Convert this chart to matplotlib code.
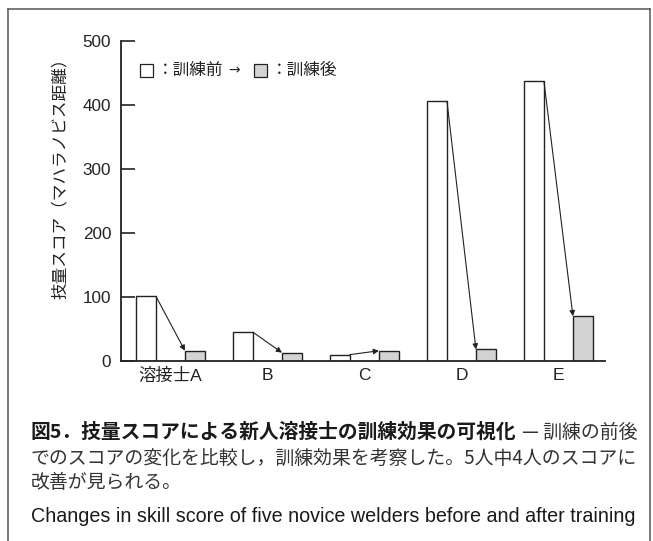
import matplotlib
matplotlib.use("Agg")
import matplotlib.pyplot as plt
from matplotlib.patches import Rectangle
import numpy as np

# ---- data ----
categories = ["溶接士A", "B", "C", "D", "E"]
before = [101, 45, 10, 406, 437]
after = [16, 13, 16, 18, 70]
yticks = [0, 100, 200, 300, 400, 500]

W, H = 653, 541
DPI = 100
JP = ["Noto Sans CJK JP", "DejaVu Sans"]
LAT = ["Liberation Sans", "Noto Sans CJK JP", "DejaVu Sans"]
plt.rcParams["font.family"] = LAT

fig = plt.figure(figsize=(W / DPI, H / DPI), dpi=DPI)

def fx(px):
    return px / W

def fy(py):
    return 1 - py / H

# outer frame (open at bottom)
frame_col = "#555555"
fig.add_artist(plt.Line2D([fx(8), fx(8)], [fy(9), -0.05], color=frame_col, lw=1.1))
fig.add_artist(plt.Line2D([fx(650), fx(650)], [fy(9), -0.05], color=frame_col, lw=1.1))
fig.add_artist(plt.Line2D([fx(8), fx(650)], [fy(9), fy(9)], color=frame_col, lw=1.1))

ax_l, ax_r, ax_t, ax_b = 121, 605, 41, 361
ax = fig.add_axes([fx(ax_l), fy(ax_b), fx(ax_r - ax_l), (ax_b - ax_t) / H])

x = np.arange(len(categories))
bw = 0.205
off = 0.252
dark = "#222222"
ax.bar(x - off, before, width=bw, color="white", edgecolor=dark, linewidth=1.0, zorder=2)
ax.bar(x + off, after, width=bw, color="#d3d3d3", edgecolor=dark, linewidth=1.0, zorder=2)

for i in range(len(categories)):
    ax.annotate("", xy=(x[i] + off - bw / 2, after[i]),
                xytext=(x[i] - off + bw / 2, before[i]),
                arrowprops=dict(arrowstyle="-|>", color=dark, lw=0.8,
                                mutation_scale=8, shrinkA=0, shrinkB=0),
                zorder=3)

ax.set_xlim(-0.51, 4.48)
ax.set_ylim(0, 500)
ax.set_yticks(yticks)
ax.set_xticks(x)
ax.set_xticklabels(categories)
ax.tick_params(axis="x", length=0, pad=5, labelsize=12.5, colors=dark)
ax.tick_params(axis="y", direction="in", length=10, width=1.2, pad=7,
               labelsize=12.3, colors=dark)
for s in ["top", "right"]:
    ax.spines[s].set_visible(False)
for s in ["left", "bottom"]:
    ax.spines[s].set_linewidth(1.3)
    ax.spines[s].set_color(dark)

ax.set_ylabel("技量スコア（マハラノビス距離）", family=JP, fontsize=12, color=dark)
ax.yaxis.set_label_coords((69 - ax_l) / (ax_r - ax_l), (ax_b - 174.5) / (ax_b - ax_t))

# legend (manual)
def sq(px0, py0, fc):
    fig.add_artist(Rectangle((fx(px0), fy(py0 + 13)), fx(12.5), 13 / H,
                             facecolor=fc, edgecolor=dark, lw=0.9,
                             transform=fig.transFigure))

sq(140, 63.5, "white")
fig.text(fx(157), fy(70), "：訓練前", family=JP, fontsize=12, va="center", color=dark)
fig.text(fx(228), fy(70), "→", family=["DejaVu Sans"], fontsize=10, va="center", color=dark)
sq(254, 63.5, "#d3d3d3")
fig.text(fx(271), fy(70), "：訓練後", family=JP, fontsize=12, va="center", color=dark)

# caption
cap_fs = 13.6
fig.text(fx(31), fy(432), "図5．技量スコアによる新人溶接士の訓練効果の可視化",
         family=JP, fontweight="bold", fontsize=14.2, va="center", color="#1a1a1a")
fig.text(fx(637), fy(432), "— 訓練の前後", family=JP, fontsize=cap_fs,
         va="center", ha="right", color="#333333")
fig.text(fx(31), fy(458), "でのスコアの変化を比較し，訓練効果を考察した。5人中4人のスコアに",
         family=JP, fontsize=cap_fs, va="center", color="#333333")
fig.text(fx(31), fy(483), "改善が見られる。", family=JP, fontsize=cap_fs,
         va="center", color="#333333")
fig.text(fx(31), fy(516), "Changes in skill score of five novice welders before and after training",
         family=LAT, fontsize=14.2, va="center", color="#1a1a1a")

fig.savefig("out.png", dpi=DPI)
